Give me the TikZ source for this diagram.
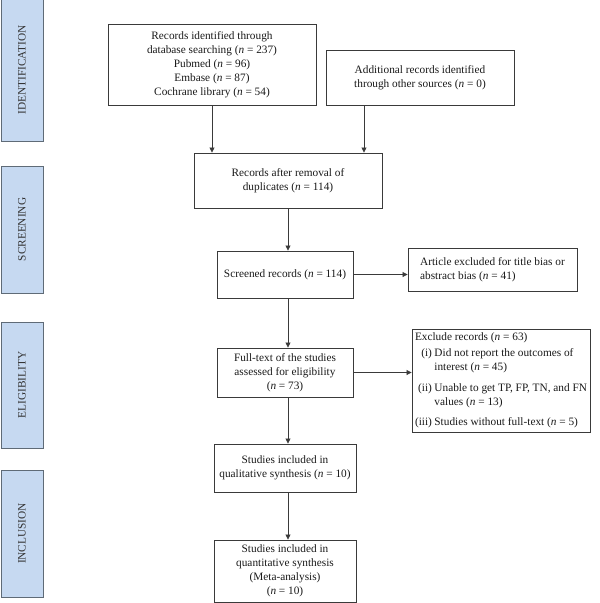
\documentclass[tikz,border=0pt]{standalone}
\usepackage{fontspec}
\setmainfont{Liberation Serif}
\usetikzlibrary{arrows.meta}
\definecolor{sidefill}{HTML}{C6D9F1}
\definecolor{sidedraw}{HTML}{5F6B77}
\definecolor{linecol}{HTML}{3A3A3A}
\begin{document}
\begin{tikzpicture}[x=1pt,y=-1pt,
  every node/.style={font=\fontsize{11.3}{14}\selectfont, text=black!90},
  box/.style={draw=linecol, line width=0.9pt, inner sep=0pt, align=center},
  lbox/.style={draw=linecol, line width=0.9pt, inner sep=0pt, align=left},
  side/.style={draw=sidedraw, fill=sidefill, line width=0.9pt, rotate=90, inner sep=0pt, minimum height=42pt, text=black!80},
  arr/.style={draw=linecol, line width=0.8pt, -{Triangle[length=5pt,width=5pt]}}
]
\useasboundingbox (0,0) rectangle (600,603);

% side bars
\node[side, minimum width=142pt] (s1) at (22,70) {IDENTIFICATION};
\node[side, minimum width=127pt] (s2) at (22,229.5) {SCREENING};
\node[side, minimum width=126pt] (s3) at (22,385) {ELIGIBILITY};
\node[side, minimum width=127pt] (s4) at (22,533.5) {INCLUSION};

% boxes
\node[box, minimum width=208pt, minimum height=81pt] (b1) at (212,64.5)
  {Records identified through\\database searching (\textit{n} = 237)\\Pubmed (\textit{n} = 96)\\Embase (\textit{n} = 87)\\Cochrane library (\textit{n} = 54)};
\node[box, minimum width=188pt, minimum height=55pt] (b2) at (420,77.5)
  {Additional records identified\\through other sources (\textit{n} = 0)};
\node[box, minimum width=188pt, minimum height=55pt] (b3) at (288,180.5)
  {Records after removal of\\duplicates (\textit{n} = 114)};
\node[box, minimum width=136pt, minimum height=47pt] (b4) at (285,274.5)
  {Screened records (\textit{n} = 114)};
\node[lbox, minimum width=169pt, minimum height=43pt] (b5) at (492.5,269.5)
  {Article excluded for title bias or\\abstract bias (\textit{n} = 41)};
\node[box, minimum width=136pt, minimum height=49pt] (b6) at (285,372.5)
  {Full-text of the studies\\assessed for eligibility\\(\textit{n} = 73)};
\node[box, minimum width=178pt, minimum height=103pt] (b7) at (501,380.5)
  {\begin{tabular}{@{}r@{\hspace{2.5pt}}l@{}}
   \multicolumn{2}{@{}l@{}}{Exclude records (\textit{n} = 63)}\\[2pt]
   (i) & Did not report the outcomes of\\
       & interest (\textit{n} = 45)\\[7pt]
   (ii) & Unable to get TP, FP, TN, and FN\\
        & values (\textit{n} = 13)\\[6pt]
   (iii) & Studies without full-text (\textit{n} = 5)
   \end{tabular}};
\node[box, minimum width=142pt, minimum height=48pt] (b8) at (285,468)
  {Studies included in\\qualitative synthesis (\textit{n} = 10)};
\node[box, minimum width=142pt, minimum height=62pt] (b9) at (285,571)
  {Studies included in\\quantitative synthesis\\(Meta-analysis)\\(\textit{n} = 10)};

% connectors
\coordinate (col) at (288,0);
\coordinate (c2) at (364,0);
\draw[arr] (b1.south) -- (b1.south |- b3.north);
\draw[arr] (c2 |- b2.south) -- (c2 |- b3.north);
\draw[arr] (col |- b3.south) -- (col |- b4.north);
\draw[arr] (b4.east) -- (b4.east -| b5.west);
\draw[arr] (col |- b4.south) -- (col |- b6.north);
\draw[arr] (b6.east) -- (b6.east -| b7.west);
\draw[arr] (col |- b6.south) -- (col |- b8.north);
\draw[arr] (col |- b8.south) -- (col |- b9.north);
\end{tikzpicture}
\end{document}
